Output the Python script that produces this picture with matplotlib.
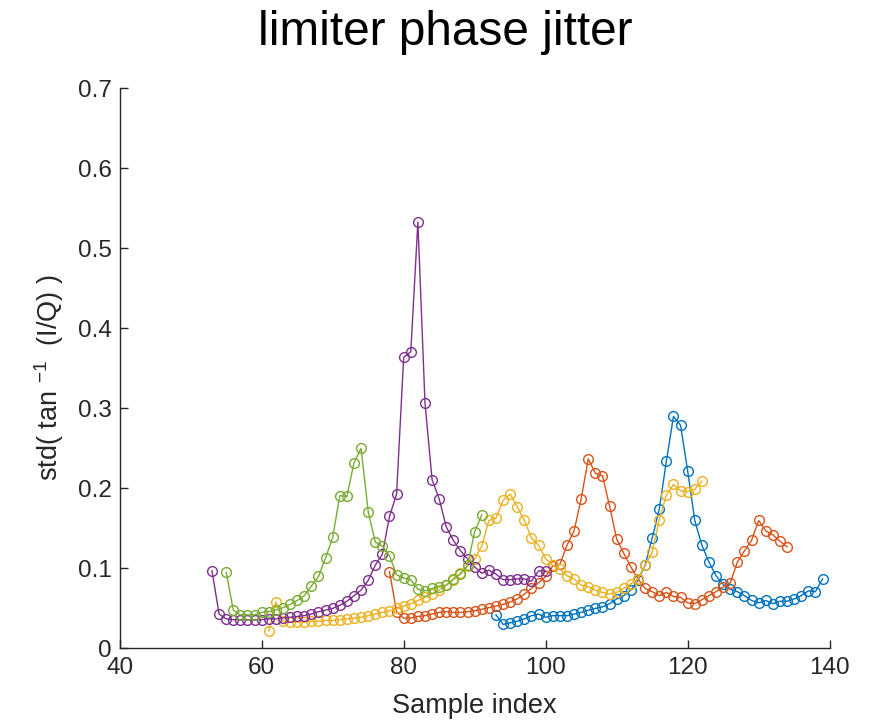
import matplotlib
matplotlib.use("Agg")
import matplotlib.pyplot as plt

# series 1 (blue)
blue_x = list(range(93, 140))
blue_y = [0.042, 0.030, 0.032, 0.034, 0.037, 0.041, 0.043, 0.039, 0.041, 0.041,
          0.041, 0.043, 0.045, 0.048, 0.050, 0.052, 0.056, 0.062, 0.066, 0.073,
          0.085, 0.104, 0.138, 0.174, 0.234, 0.290, 0.279, 0.222, 0.160, 0.129,
          0.108, 0.091, 0.080, 0.074, 0.071, 0.066, 0.060, 0.057, 0.060, 0.056,
          0.059, 0.059, 0.062, 0.066, 0.072, 0.071, 0.087]

# series 2 (orange)
orange_x = list(range(78, 135))
orange_y = [0.096, 0.046, 0.038, 0.038, 0.040, 0.041, 0.043, 0.045, 0.046, 0.045,
            0.045, 0.046, 0.047, 0.049, 0.051, 0.053, 0.055, 0.058, 0.062, 0.068,
            0.075, 0.082, 0.090, 0.103, 0.105, 0.129, 0.147, 0.187, 0.237, 0.219,
            0.216, 0.178, 0.137, 0.119, 0.102, 0.087, 0.075, 0.071, 0.066, 0.070,
            0.065, 0.064, 0.057, 0.056, 0.061, 0.066, 0.071, 0.077, 0.082, 0.108,
            0.122, 0.135, 0.160, 0.147, 0.142, 0.134, 0.127]

# series 3 (yellow)
yellow_x = list(range(61, 123))
yellow_y = [0.022, 0.058, 0.034, 0.033, 0.033, 0.033, 0.034, 0.034, 0.035, 0.035,
            0.036, 0.037, 0.038, 0.039, 0.041, 0.043, 0.045, 0.047, 0.050, 0.053,
            0.056, 0.060, 0.064, 0.068, 0.073, 0.079, 0.086, 0.094, 0.103, 0.112,
            0.128, 0.160, 0.163, 0.185, 0.193, 0.177, 0.160, 0.138, 0.129, 0.112,
            0.104, 0.099, 0.091, 0.087, 0.079, 0.077, 0.073, 0.070, 0.068, 0.070,
            0.075, 0.081, 0.087, 0.104, 0.120, 0.161, 0.192, 0.205, 0.197, 0.196,
            0.199, 0.209]

# series 4 (purple)
purple_x = list(range(53, 101))
purple_y = [0.097, 0.043, 0.037, 0.036, 0.036, 0.036, 0.036, 0.036, 0.037, 0.037,
            0.038, 0.039, 0.040, 0.041, 0.043, 0.046, 0.048, 0.050, 0.054, 0.059,
            0.066, 0.073, 0.085, 0.104, 0.118, 0.165, 0.193, 0.364, 0.371, 0.533,
            0.307, 0.211, 0.187, 0.152, 0.135, 0.122, 0.112, 0.102, 0.094, 0.098,
            0.093, 0.086, 0.086, 0.087, 0.087, 0.084, 0.097, 0.097]

# series 5 (green)
green_x = list(range(55, 92))
green_y = [0.095, 0.048, 0.042, 0.042, 0.042, 0.045, 0.046, 0.048, 0.051, 0.055,
           0.060, 0.066, 0.078, 0.090, 0.113, 0.139, 0.191, 0.190, 0.232, 0.250,
           0.171, 0.133, 0.128, 0.116, 0.092, 0.088, 0.086, 0.074, 0.072, 0.075,
           0.077, 0.079, 0.087, 0.093, 0.104, 0.146, 0.167]

x_ticks = [40, 60, 80, 100, 120, 140]
y_ticks = [0, 0.1, 0.2, 0.3, 0.4, 0.5, 0.6, 0.7]
y_tick_labels = ["0", "0.1", "0.2", "0.3", "0.4", "0.5", "0.6", "0.7"]

colors = ["#0072BD", "#D95319", "#EDB120", "#7E2F8E", "#77AC30"]
axis_color = "#262626"


def main():
    plt.rcParams["font.family"] = ["Liberation Sans", "DejaVu Sans"]
    plt.rcParams["mathtext.fontset"] = "custom"
    plt.rcParams["mathtext.rm"] = "Liberation Sans"
    plt.rcParams["mathtext.it"] = "Liberation Sans"

    fig = plt.figure(figsize=(8.77, 7.21), dpi=100)
    ax = fig.add_axes([0.1365, 0.1006, 0.8095, 0.7767])

    series = [(blue_x, blue_y), (orange_x, orange_y), (yellow_x, yellow_y),
              (purple_x, purple_y), (green_x, green_y)]
    for (xs, ys), c in zip(series, colors):
        ax.plot(xs, ys, color=c, linewidth=1.0, marker="o", markersize=7,
                markerfacecolor="none", markeredgewidth=1.0)

    ax.set_xlim(40, 140)
    ax.set_ylim(0, 0.7)
    ax.set_xticks(x_ticks)
    ax.set_yticks(y_ticks)
    ax.set_yticklabels(y_tick_labels)

    for side in ("top", "right"):
        ax.spines[side].set_visible(False)
    for side in ("left", "bottom"):
        ax.spines[side].set_color(axis_color)
        ax.spines[side].set_linewidth(1.0)
    ax.tick_params(direction="in", length=6, width=1.0, colors=axis_color,
                   labelsize=17.5, pad=6)

    ax.set_xlabel("Sample index", fontsize=19.5, color=axis_color, labelpad=10)
    ax.set_ylabel(r"std( tan $^{-1}$  (I/Q) )", fontsize=19.5, color=axis_color)
    ax.yaxis.set_label_coords(-0.076, 0.483)
    ax.set_title("limiter phase jitter", fontsize=34.4, pad=31, x=0.458)

    fig.savefig("out.png", dpi=100)


if __name__ == '__main__':
    main()
